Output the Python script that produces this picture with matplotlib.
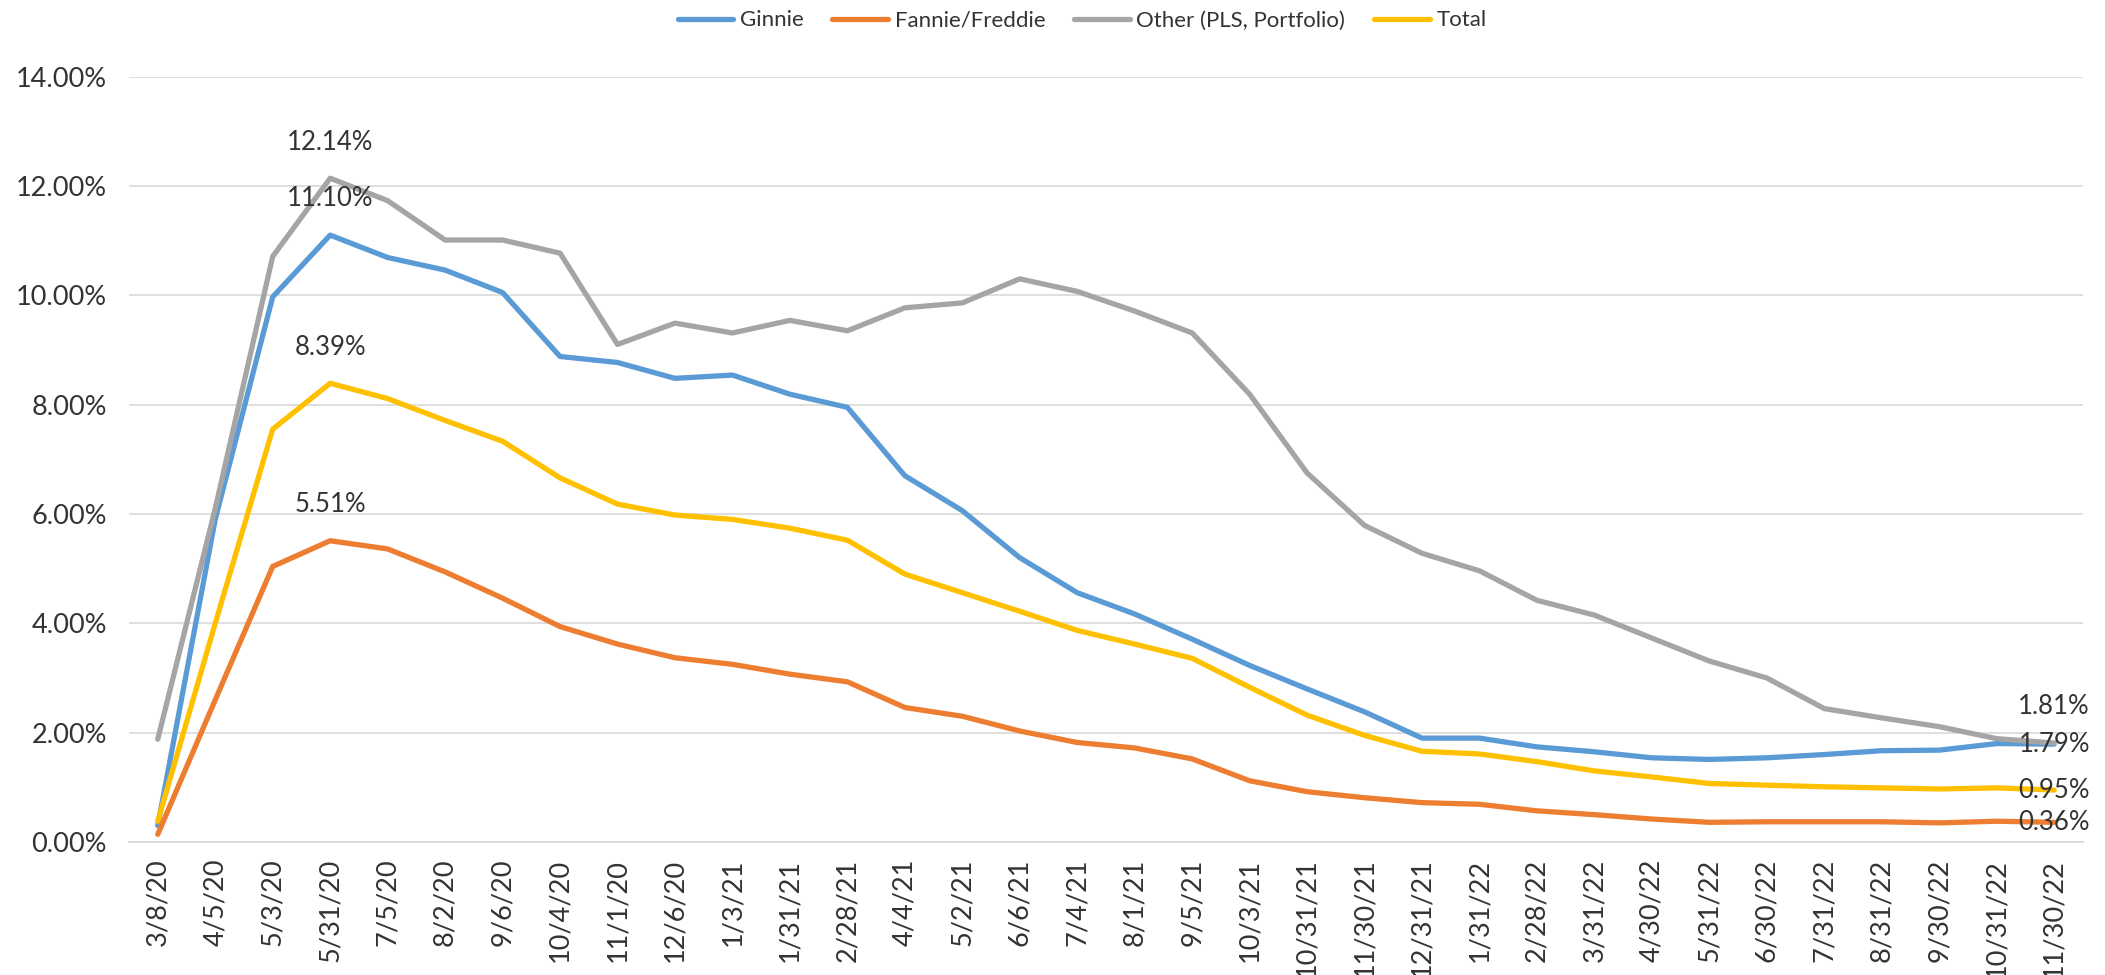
import numpy as np
import matplotlib

matplotlib.use("Agg")
from matplotlib import pyplot as plt
from matplotlib.ticker import FuncFormatter


# Forbearance rate by investor type, week-ending dates (percent)

dates = [
    "3/8/20", "4/5/20", "5/3/20", "5/31/20", "7/5/20", "8/2/20", "9/6/20",
    "10/4/20", "11/1/20", "12/6/20", "1/3/21", "1/31/21", "2/28/21", "4/4/21",
    "5/2/21", "6/6/21", "7/4/21", "8/1/21", "9/5/21", "10/3/21", "10/31/21",
    "11/30/21", "12/31/21", "1/31/22", "2/28/22", "3/31/22", "4/30/22",
    "5/31/22", "6/30/22", "7/31/22", "8/31/22", "9/30/22", "10/31/22",
    "11/30/22",
]

ginnie = [
    0.30, 5.90, 9.97, 11.10, 10.69, 10.46, 10.05, 8.88, 8.77, 8.48, 8.54,
    8.19, 7.95, 6.70, 6.06, 5.20, 4.56, 4.17, 3.71, 3.23, 2.80, 2.38, 1.90,
    1.90, 1.74, 1.65, 1.54, 1.51, 1.54, 1.60, 1.67, 1.68, 1.80, 1.79,
]
fannie_freddie = [
    0.14, 2.60, 5.04, 5.51, 5.36, 4.94, 4.46, 3.94, 3.62, 3.37, 3.25, 3.07,
    2.93, 2.46, 2.30, 2.03, 1.82, 1.72, 1.52, 1.12, 0.92, 0.81, 0.72, 0.69,
    0.57, 0.50, 0.42, 0.36, 0.37, 0.37, 0.37, 0.35, 0.38, 0.36,
]
other = [
    1.88, 6.10, 10.71, 12.14, 11.73, 11.01, 11.01, 10.77, 9.10, 9.49, 9.31,
    9.54, 9.35, 9.77, 9.86, 10.30, 10.07, 9.71, 9.31, 8.19, 6.75, 5.79, 5.28,
    4.96, 4.42, 4.15, 3.73, 3.31, 3.00, 2.44, 2.27, 2.11, 1.89, 1.81,
]
total = [
    0.38, 4.00, 7.55, 8.39, 8.11, 7.71, 7.33, 6.66, 6.18, 5.98, 5.90, 5.74,
    5.52, 4.90, 4.56, 4.22, 3.87, 3.62, 3.36, 2.83, 2.32, 1.95, 1.66, 1.61,
    1.47, 1.30, 1.19, 1.07, 1.04, 1.01, 0.99, 0.97, 0.99, 0.95,
]

series_names = ["Ginnie", "Fannie/Freddie", "Other (PLS, Portfolio)", "Total"]
series_colors = ["#5B9BD5", "#ED7D31", "#A5A5A5", "#FFC000"]

TEXT_COLOR = "#333333"
TICK_SIZE = 19.5
LABEL_SIZE = 18.5
LEGEND_SIZE = 16

plt.rcParams["font.family"] = ["Lato", "DejaVu Sans"]

fig = plt.figure(figsize=(21.05, 9.75), dpi=100)
ax = fig.add_axes([0.0613, 0.1364, 0.9282, 0.7851])

x = np.arange(len(dates))
all_series = [ginnie, fannie_freddie, other, total]
for values, name, color in zip(all_series, series_names, series_colors):
    ax.plot(x, values, color=color, lw=3.8, label=name, solid_capstyle="round")

# peak labels (above the point)
peak = 3
for values in all_series:
    ax.annotate(
        f"{values[peak]:.2f}%",
        (x[peak], values[peak]),
        xytext=(0, 26),
        textcoords="offset points",
        ha="center",
        va="center",
        fontsize=LABEL_SIZE,
        color=TEXT_COLOR,
    )

# last-point labels: Other sits above, the rest are centred on the point
last = len(dates) - 1
for values, offset in zip(all_series, [0, 0, 26, 0]):
    ax.annotate(
        f"{values[last]:.2f}%",
        (x[last], values[last]),
        xytext=(0, offset),
        textcoords="offset points",
        ha="center",
        va="center",
        fontsize=LABEL_SIZE,
        color=TEXT_COLOR,
    )

ax.set_xlim(-0.5, len(dates) - 0.5)
ax.set_ylim(0, 14)
ax.set_yticks(np.arange(0, 14.01, 2))
ax.yaxis.set_major_formatter(FuncFormatter(lambda v, _: f"{v:.2f}%"))
ax.set_xticks(x)
ax.set_xticklabels(dates, rotation=90)

ax.grid(axis="y", color="#D9D9D9", lw=1.2)
ax.set_axisbelow(True)
for side in ["top", "right", "left"]:
    ax.spines[side].set_visible(False)
ax.spines["bottom"].set_color("#D9D9D9")
ax.spines["bottom"].set_linewidth(1.2)
ax.tick_params(axis="both", length=0, labelsize=TICK_SIZE, colors=TEXT_COLOR)
ax.tick_params(axis="y", pad=16)
ax.tick_params(axis="x", pad=12)

fig.legend(
    loc="center",
    bbox_to_anchor=(0.514, 0.979),
    ncol=4,
    frameon=False,
    fontsize=LEGEND_SIZE,
    handlelength=2.5,
    handletextpad=0.3,
    columnspacing=1.3,
    labelcolor=TEXT_COLOR,
)

fig.savefig("out.png", dpi=100)
